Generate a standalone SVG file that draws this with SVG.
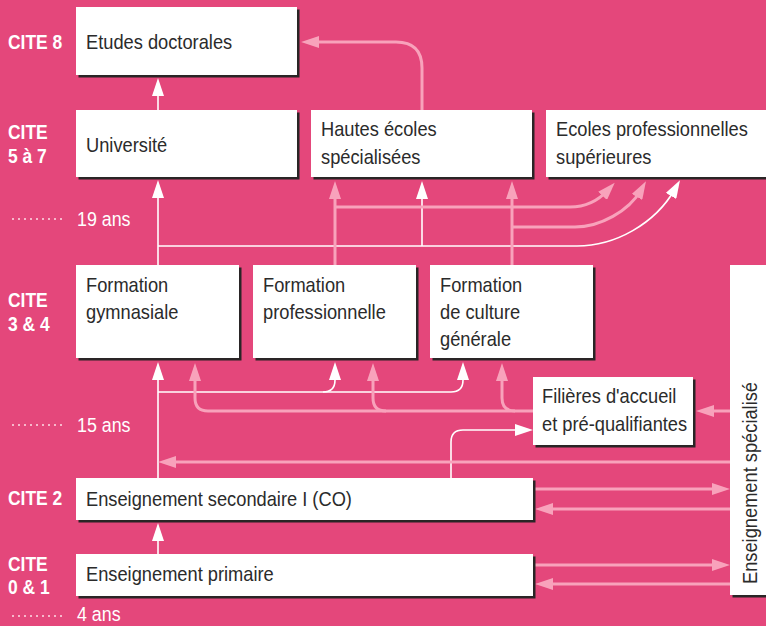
<svg xmlns="http://www.w3.org/2000/svg" width="766" height="626" viewBox="0 0 766 626">
<style>
.bg{fill:#E4477B}
.sh{fill:#2A2526}
.bx{fill:#FFFFFF}
.t{font-family:"Liberation Sans",Arial,sans-serif;font-size:21px;fill:#2B2B2B}
.lab{font-family:"Liberation Sans",Arial,sans-serif;font-size:21px;font-weight:bold;fill:#FFFFFF}
.age{font-family:"Liberation Sans",Arial,sans-serif;font-size:20.5px;fill:#FFFFFF}
.dots{stroke:#F7B8CB;stroke-width:2;stroke-dasharray:2 4;fill:none}
.w{stroke:#FFFFFF;stroke-width:1.6;fill:none}
.p{stroke:#F8A2BB;stroke-width:3;fill:none}
</style>
<defs>
<marker id="aw" markerUnits="userSpaceOnUse" viewBox="0 0 18 12" markerWidth="18" markerHeight="12" refX="8" refY="6" orient="auto">
<path d="M0,0 L18,6 L0,12 Z" fill="#FFFFFF"/>
</marker>
<marker id="ap" markerUnits="userSpaceOnUse" viewBox="0 0 18 12" markerWidth="18" markerHeight="12" refX="8" refY="6" orient="auto">
<path d="M0,0 L18,6 L0,12 Z" fill="#F8A2BB"/>
</marker>
</defs>
<rect class="bg" x="0" y="0" width="766" height="626"/>

<g id="labels">
<text class="lab" transform="translate(8,49) scale(0.83,1)">CITE 8</text>
<text class="lab" transform="translate(8,139) scale(0.83,1)">CITE<tspan x="0" dy="24">5 à 7</tspan></text>
<text class="lab" transform="translate(8,307) scale(0.83,1)">CITE<tspan x="0" dy="24">3 &amp; 4</tspan></text>
<text class="lab" transform="translate(8,505) scale(0.83,1)">CITE 2</text>
<text class="lab" transform="translate(8,571) scale(0.83,1)">CITE<tspan x="0" dy="23">0 &amp; 1</tspan></text>
<line class="dots" x1="12" y1="219" x2="66" y2="219"/>
<text class="age" transform="translate(77,226) scale(0.87,1)">19 ans</text>
<line class="dots" x1="12" y1="425" x2="66" y2="425"/>
<text class="age" transform="translate(77,432) scale(0.87,1)">15 ans</text>
<line class="dots" x1="12" y1="616" x2="66" y2="616"/>
<text class="age" transform="translate(77,621) scale(0.87,1)">4 ans</text>
</g>

<g id="connectors">
<!-- white -->
<path class="w" d="M158,110 V88" marker-end="url(#aw)"/>
<path class="w" d="M158,265 V190" marker-end="url(#aw)"/>
<path class="w" d="M158,246 H577 C615,246 655,224 675,189" marker-end="url(#aw)"/>
<path class="w" d="M422,246 V191" marker-end="url(#aw)"/>
<path class="w" d="M158,478 V372" marker-end="url(#aw)"/>
<path class="w" d="M158,392 H323 Q335,392 335,380 V372" marker-end="url(#aw)"/>
<path class="w" d="M323,392 H451 Q463,392 463,380 V372" marker-end="url(#aw)"/>
<path class="w" d="M451,478 V442 Q451,430 463,430 H523" marker-end="url(#aw)"/>
<path class="w" d="M158,554 V533" marker-end="url(#aw)"/>
<!-- pink -->
<path class="p" d="M422,110 V68 Q422,42 396,42 H311" marker-end="url(#ap)"/>
<path class="p" d="M335,265 V191" marker-end="url(#ap)"/>
<path class="p" d="M335,207 H570 C585,207 597,202 608,190" marker-end="url(#ap)"/>
<path class="p" d="M512,265 V191" marker-end="url(#ap)"/>
<path class="p" d="M512,227 H575 C600,227 629,211 641,190" marker-end="url(#ap)"/>
<path class="p" d="M533,411 H208 Q195,411 195,398 V373" marker-end="url(#ap)"/>
<path class="p" d="M386,411 Q373,411 373,398 V373" marker-end="url(#ap)"/>
<path class="p" d="M515,411 Q502,411 502,398 V373" marker-end="url(#ap)"/>
<path class="p" d="M730,411 H706" marker-end="url(#ap)"/>
<path class="p" d="M730,462 H168" marker-end="url(#ap)"/>
<path class="p" d="M533,489 H720" marker-end="url(#ap)"/>
<path class="p" d="M730,509 H545" marker-end="url(#ap)"/>
<path class="p" d="M533,565 H720" marker-end="url(#ap)"/>
<path class="p" d="M730,584 H545" marker-end="url(#ap)"/>
</g>

<g id="etudes-doctorales">
<rect class="sh" x="78.5" y="9.5" width="221" height="68"/>
<rect class="bx" x="76" y="7" width="221" height="68"/>
<text class="t" transform="translate(86,49) scale(0.87,1)">Etudes doctorales</text>
</g>
<g id="universite">
<rect class="sh" x="78.5" y="112.5" width="221" height="67"/>
<rect class="bx" x="76" y="110" width="221" height="67"/>
<text class="t" transform="translate(86,152) scale(0.87,1)">Université</text>
</g>
<g id="hautes-ecoles">
<rect class="sh" x="313.5" y="112.5" width="221" height="67"/>
<rect class="bx" x="311" y="110" width="221" height="67"/>
<text class="t" transform="translate(321,136) scale(0.87,1)">Hautes écoles<tspan x="0" dy="28">spécialisées</tspan></text>
</g>
<g id="ecoles-professionnelles">
<rect class="sh" x="548.5" y="112.5" width="230" height="67"/>
<rect class="bx" x="546" y="110" width="230" height="67"/>
<text class="t" transform="translate(556,136) scale(0.87,1)">Ecoles professionnelles<tspan x="0" dy="28">supérieures</tspan></text>
</g>
<g id="formation-gymnasiale">
<rect class="sh" x="78.5" y="267.5" width="163" height="93"/>
<rect class="bx" x="76" y="265" width="163" height="93"/>
<text class="t" transform="translate(86,292) scale(0.87,1)">Formation<tspan x="0" dy="27">gymnasiale</tspan></text>
</g>
<g id="formation-professionnelle">
<rect class="sh" x="255.5" y="267.5" width="163" height="93"/>
<rect class="bx" x="253" y="265" width="163" height="93"/>
<text class="t" transform="translate(263,292) scale(0.87,1)">Formation<tspan x="0" dy="27">professionnelle</tspan></text>
</g>
<g id="formation-culture-generale">
<rect class="sh" x="432.5" y="267.5" width="163" height="93"/>
<rect class="bx" x="430" y="265" width="163" height="93"/>
<text class="t" transform="translate(440,292) scale(0.87,1)">Formation<tspan x="0" dy="27">de culture</tspan><tspan x="0" dy="27">générale</tspan></text>
</g>
<g id="enseignement-specialise">
<rect class="sh" x="732.5" y="267.5" width="40" height="330"/>
<rect class="bx" x="730" y="265" width="40" height="330"/>
<text class="t" transform="translate(757,584) rotate(-90) scale(0.87,1)">Enseignement spécialisé</text>
</g>
<g id="filieres-accueil">
<rect class="sh" x="535.5" y="379.5" width="160" height="68"/>
<rect class="bx" x="533" y="377" width="160" height="68"/>
<text class="t" transform="translate(542,403) scale(0.87,1)">Filières d'accueil<tspan x="0" dy="28">et pré-qualifiantes</tspan></text>
</g>
<g id="secondaire-I">
<rect class="sh" x="78.5" y="480.5" width="457" height="42"/>
<rect class="bx" x="76" y="478" width="457" height="42"/>
<text class="t" transform="translate(86,506) scale(0.87,1)">Enseignement secondaire I (CO)</text>
</g>
<g id="primaire">
<rect class="sh" x="78.5" y="556.5" width="457" height="42"/>
<rect class="bx" x="76" y="554" width="457" height="42"/>
<text class="t" transform="translate(86,581) scale(0.87,1)">Enseignement primaire</text>
</g>
</svg>
